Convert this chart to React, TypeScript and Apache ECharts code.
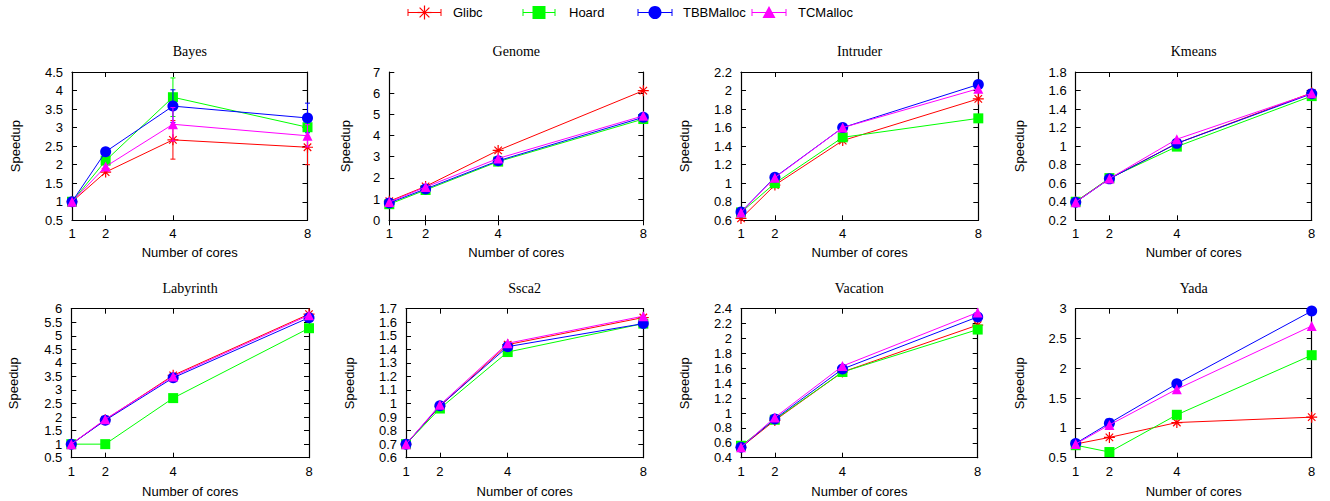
import React, { useEffect, useRef } from "react";
import * as echarts from "echarts";

// ---------- data ----------
const CORES = [1, 2, 4, 8];
const MALLOCS = ["Glibc", "Hoard", "TBBMalloc", "TCMalloc"];
const BENCHMARKS = ["Bayes", "Genome", "Intruder", "Kmeans", "Labyrinth", "Ssca2", "Vacation", "Yada"];

// values per malloc in MALLOCS order, per core count in CORES order
const bayes = [
  [1.0, 1.8, 2.67, 2.47],
  [1.0, 2.11, 3.82, 3.01],
  [1.0, 2.35, 3.58, 3.26],
  [1.0, 1.95, 3.09, 2.78],
];
const genome = [
  [0.9, 1.6, 3.3, 6.12],
  [0.76, 1.43, 2.77, 4.78],
  [0.82, 1.48, 2.81, 4.86],
  [0.86, 1.57, 2.92, 4.93],
];
const intruder = [
  [0.62, 0.98, 1.46, 1.91],
  [0.685, 1.0, 1.495, 1.7],
  [0.69, 1.065, 1.6, 2.065],
  [0.685, 1.06, 1.6, 2.02],
];
const kmeans = [
  [0.4, 0.65, 1.03, 1.575],
  [0.4, 0.655, 0.995, 1.54],
  [0.395, 0.647, 1.03, 1.565],
  [0.395, 0.65, 1.075, 1.57],
];
const labyrinth = [
  [1.0, 1.9, 3.54, 5.8],
  [1.0, 1.0, 2.7, 5.28],
  [1.0, 1.88, 3.45, 5.67],
  [1.0, 1.92, 3.5, 5.76],
];
const ssca2 = [
  [0.7, 0.98, 1.435, 1.635],
  [0.7, 0.963, 1.38, 1.59],
  [0.7, 0.983, 1.42, 1.59],
  [0.7, 0.99, 1.445, 1.645],
];
const vacation = [
  [0.54, 0.9, 1.55, 2.18],
  [0.56, 0.91, 1.55, 2.12],
  [0.54, 0.92, 1.59, 2.29],
  [0.54, 0.94, 1.63, 2.35],
];
const yada = [
  [0.73, 0.84, 1.09, 1.18],
  [0.71, 0.595, 1.22, 2.22],
  [0.74, 1.08, 1.74, 2.96],
  [0.73, 1.05, 1.65, 2.71],
];
const ALL_DATA = [bayes, genome, intruder, kmeans, labyrinth, ssca2, vacation, yada];

// Bayes error bars (symmetric half-widths), per malloc, per core count
const bayesErr = [
  [0, 0, 0.52, 0.47],
  [0, 0, 0.52, 0.12],
  [0, 0, 0.44, 0.4],
  [0, 0, 0.45, 0.3],
];

// y-axis ranges per benchmark: [min, max, interval]
const Y_MIN = [0.5, 0, 0.6, 0.2, 0.5, 0.6, 0.4, 0.5];
const Y_MAX = [4.5, 7, 2.2, 1.8, 6, 1.7, 2.4, 3];
const Y_STEP = [0.5, 1, 0.2, 0.2, 0.5, 0.1, 0.2, 0.5];

// ---------- layout / style ----------
const COLORS = ["#ff0000", "#00ff00", "#0000ff", "#ff00ff"];
const STAR = "path://M0 5 L10 5 M5 0 L5 10 M1.6 1.6 L8.4 8.4 M8.4 1.6 L1.6 8.4";
const SYMBOLS = [STAR, "rect", "circle", "triangle"];
const SYM_SIZE = [11, 10, 11, 10];

const PANELS = [
  { left: 72, right: 307.5, top: 72, bottom: 220.3, nameGap: 50, xGap: 26 },
  { left: 389.3, right: 643.3, top: 72, bottom: 220.3, nameGap: 37, xGap: 26 },
  { left: 741, right: 978.3, top: 72, bottom: 220.3, nameGap: 50, xGap: 26 },
  { left: 1075.7, right: 1311.7, top: 72, bottom: 220.3, nameGap: 50, xGap: 26 },
  { left: 71.3, right: 309, top: 308.7, bottom: 457.7, nameGap: 51, xGap: 27.5 },
  { left: 406, right: 643.3, top: 308.7, bottom: 457.7, nameGap: 50, xGap: 27.5 },
  { left: 741, right: 977.7, top: 308.7, bottom: 457.7, nameGap: 50, xGap: 27.5 },
  { left: 1075.7, right: 1311.7, top: 308.7, bottom: 457.7, nameGap: 50, xGap: 27.5 },
];

const SANS = "'Liberation Sans', Arial, sans-serif";
const SERIF = "'Liberation Serif', 'Times New Roman', serif";

const fmt = (v: number) => String(+(+v).toFixed(2));

function buildOption() {
  const grid: any[] = [];
  const xAxis: any[] = [];
  const yAxis: any[] = [];
  const series: any[] = [];
  const title: any[] = [];

  PANELS.forEach((p, i) => {
    grid.push({
      left: p.left,
      top: p.top,
      width: p.right - p.left,
      height: p.bottom - p.top,
      containLabel: false,
    });
    const axLine = { show: true, lineStyle: { color: "#000", width: 1.2 } };
    const tick = { show: true, inside: true, length: 5, lineStyle: { color: "#000", width: 1 } };
    // bottom x
    xAxis.push({
      type: "value",
      gridIndex: i,
      position: "bottom",
      min: 1,
      max: 8,
      interval: 1,
      name: "Number of cores",
      nameLocation: "middle",
      nameGap: p.xGap,
      nameTextStyle: { fontFamily: SANS, fontSize: 13, color: "#000" },
      axisLine: axLine,
      axisTick: { ...tick, customValues: CORES },
      axisLabel: { customValues: CORES, fontFamily: SANS, fontSize: 13, color: "#000", margin: 7, formatter: fmt },
      splitLine: { show: false },
    });
    // top mirror x
    xAxis.push({
      type: "value",
      gridIndex: i,
      position: "top",
      min: 1,
      max: 8,
      interval: 1,
      axisLine: axLine,
      axisTick: { ...tick, customValues: CORES },
      axisLabel: { show: false },
      splitLine: { show: false },
    });
    // left y
    yAxis.push({
      type: "value",
      gridIndex: i,
      position: "left",
      min: Y_MIN[i],
      max: Y_MAX[i],
      interval: Y_STEP[i],
      name: "Speedup",
      nameLocation: "middle",
      nameGap: p.nameGap,
      nameRotate: 90,
      nameTextStyle: { fontFamily: SANS, fontSize: 13, color: "#000" },
      axisLine: axLine,
      axisTick: tick,
      axisLabel: { fontFamily: SANS, fontSize: 13, color: "#000", margin: 9, formatter: fmt },
      splitLine: { show: false },
    });
    // right mirror y
    yAxis.push({
      type: "value",
      gridIndex: i,
      position: "right",
      min: Y_MIN[i],
      max: Y_MAX[i],
      interval: Y_STEP[i],
      axisLine: axLine,
      axisTick: tick,
      axisLabel: { show: false },
      splitLine: { show: false },
    });

    title.push({
      text: BENCHMARKS[i],
      left: (p.left + p.right) / 2,
      top: p.top - 27.5,
      padding: 0,
      textAlign: "center",
      textStyle: { fontFamily: SERIF, fontSize: 14, fontWeight: "normal", color: "#000" },
    });

    const data = ALL_DATA[i];
    MALLOCS.forEach((m, k) => {
      const color = COLORS[k];
      if (i === 0) {
        series.push({
          type: "custom",
          name: m + "-err",
          xAxisIndex: 2 * i,
          yAxisIndex: 2 * i,
          z: 2 + k,
          silent: true,
          encode: { x: 0, y: 1 },
          data: CORES.map((c, j) => [c, data[k][j], bayesErr[k][j]]),
          renderItem: (params: any, api: any) => {
            const x = api.value(0);
            const y = api.value(1);
            const e = api.value(2);
            if (!e) return { type: "group", children: [] };
            const t = api.coord([x, y + e]);
            const b = api.coord([x, y - e]);
            const st = { stroke: color, lineWidth: 1 };
            return {
              type: "group",
              children: [
                { type: "line", shape: { x1: t[0], y1: t[1], x2: b[0], y2: b[1] }, style: st },
                { type: "line", shape: { x1: t[0] - 2.5, y1: t[1], x2: t[0] + 2.5, y2: t[1] }, style: st },
                { type: "line", shape: { x1: b[0] - 2.5, y1: b[1], x2: b[0] + 2.5, y2: b[1] }, style: st },
              ],
            };
          },
        });
      }
      series.push({
        type: "line",
        name: m,
        xAxisIndex: 2 * i,
        yAxisIndex: 2 * i,
        z: 2 + k,
        data: CORES.map((c, j) => [c, data[k][j]]),
        symbol: SYMBOLS[k],
        symbolSize: SYM_SIZE[k],
        showSymbol: true,
        showAllSymbol: true,
        lineStyle: { color, width: 1 },
        itemStyle: k === 0 ? { color, borderColor: color, borderWidth: 1.2 } : { color, borderWidth: 0 },
        emphasis: { disabled: true },
      });
    });
  });

  // legend drawn as graphic
  const LEG = [
    { x1: 408, x2: 441, tx: 453 },
    { x1: 523, x2: 555, tx: 569 },
    { x1: 638, x2: 672, tx: 683 },
    { x1: 752, x2: 786, tx: 798 },
  ];
  const ly = 12.5;
  const graphic: any[] = [];
  LEG.forEach((L, k) => {
    const c = COLORS[k];
    const st = { stroke: c, lineWidth: 1 };
    const cx = (L.x1 + L.x2) / 2;
    graphic.push({ type: "line", shape: { x1: L.x1, y1: ly, x2: L.x2, y2: ly }, style: st });
    graphic.push({ type: "line", shape: { x1: L.x1, y1: ly - 3.5, x2: L.x1, y2: ly + 3.5 }, style: st });
    graphic.push({ type: "line", shape: { x1: L.x2, y1: ly - 3.5, x2: L.x2, y2: ly + 3.5 }, style: st });
    if (k === 0) {
      const r = 7;
      const d = r * 0.7;
      const sst = { stroke: c, lineWidth: 1.2 };
      graphic.push({ type: "line", shape: { x1: cx - r, y1: ly, x2: cx + r, y2: ly }, style: sst });
      graphic.push({ type: "line", shape: { x1: cx, y1: ly - r, x2: cx, y2: ly + r }, style: sst });
      graphic.push({ type: "line", shape: { x1: cx - d, y1: ly - d, x2: cx + d, y2: ly + d }, style: sst });
      graphic.push({ type: "line", shape: { x1: cx + d, y1: ly - d, x2: cx - d, y2: ly + d }, style: sst });
    } else if (k === 1) {
      graphic.push({ type: "rect", shape: { x: cx - 6.5, y: ly - 6.5, width: 13, height: 13 }, style: { fill: c } });
    } else if (k === 2) {
      graphic.push({ type: "circle", shape: { cx, cy: ly, r: 6.5 }, style: { fill: c } });
    } else {
      graphic.push({
        type: "polygon",
        shape: { points: [[cx, ly - 6.5], [cx + 6.5, ly + 5.5], [cx - 6.5, ly + 5.5]] },
        style: { fill: c },
      });
    }
    graphic.push({
      type: "text",
      x: L.tx,
      y: ly,
      style: { text: MALLOCS[k], fill: "#000", font: `13px ${SANS}`, verticalAlign: "middle", align: "left" },
    });
  });

  return {
    animation: false,
    backgroundColor: "#fff",
    title,
    grid,
    xAxis,
    yAxis,
    series,
    graphic,
  };
}

export default function App() {
  const ref = useRef<HTMLDivElement>(null);
  useEffect(() => {
    document.body.style.margin = "0";
    if (!ref.current) return;
    const chart = echarts.init(ref.current, undefined, { renderer: "svg" });
    chart.setOption(buildOption() as any);
    return () => chart.dispose();
  }, []);
  return <div ref={ref} style={{ width: 1330, height: 501 }} />;
}
